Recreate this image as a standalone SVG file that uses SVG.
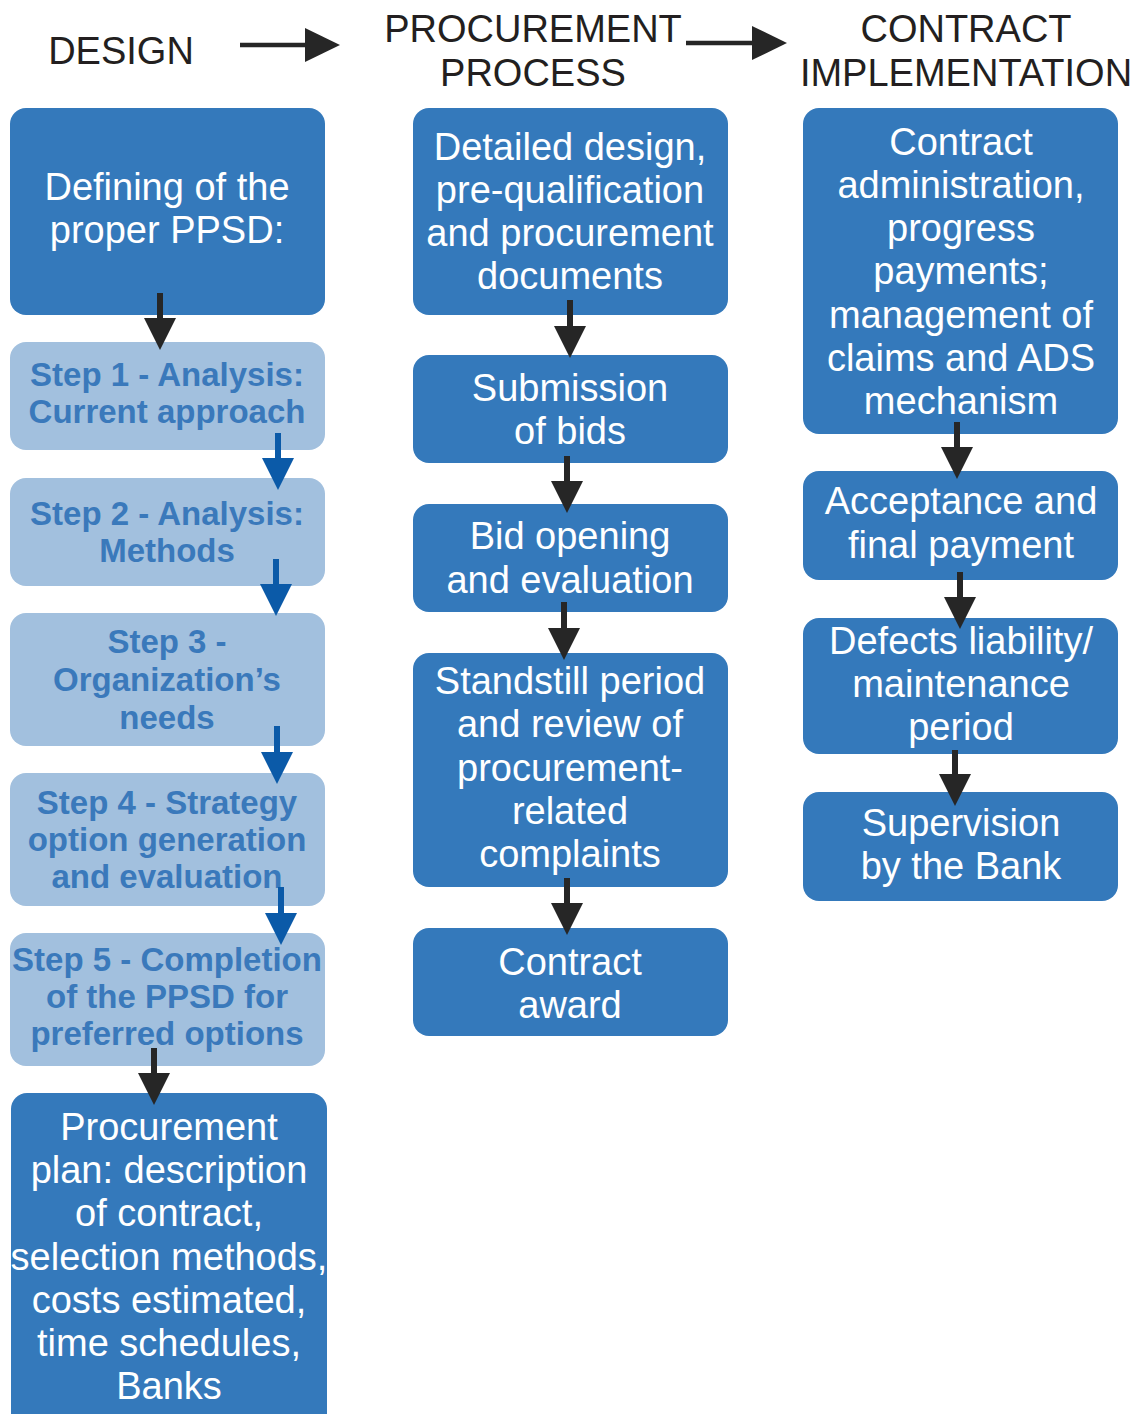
<svg xmlns="http://www.w3.org/2000/svg" width="1142" height="1414" viewBox="0 0 1142 1414">
<style>
.dark{fill:#3479bb}
.light{fill:#a2c0de}
.t{font-family:"Liberation Sans",Arial,sans-serif;font-size:38px;fill:#ffffff;text-anchor:middle}
.s{font-family:"Liberation Sans",Arial,sans-serif;font-size:33px;font-weight:bold;fill:#3a79bb;text-anchor:middle}
.h{font-family:"Liberation Sans",Arial,sans-serif;font-size:38px;fill:#231f20;text-anchor:middle}
.ka{stroke:#262626;stroke-width:6;fill:none}
.ba{stroke:#0b5aa8;stroke-width:6;fill:none}
.ha{stroke:#262626;stroke-width:4.5;fill:none}
</style>
<defs>
<marker id="mk" viewBox="0 0 32 32" refX="0" refY="16" markerWidth="32" markerHeight="32" markerUnits="userSpaceOnUse" orient="auto"><path d="M0,0 L32,16 L0,32 z" fill="#262626"/></marker>
<marker id="mb" viewBox="0 0 32 32" refX="0" refY="16" markerWidth="32" markerHeight="32" markerUnits="userSpaceOnUse" orient="auto"><path d="M0,0 L32,16 L0,32 z" fill="#0b5aa8"/></marker>
<marker id="mh" viewBox="0 0 35 34" refX="0" refY="17" markerWidth="35" markerHeight="34" markerUnits="userSpaceOnUse" orient="auto"><path d="M0,0 L35,17 L0,34 z" fill="#262626"/></marker>
</defs>
<rect width="1142" height="1414" fill="#ffffff"/>
<g id="headers">
<text class="h" x="121" y="64">DESIGN</text>
<text class="h" x="533" y="42">PROCUREMENT</text>
<text class="h" x="533" y="86">PROCESS</text>
<text class="h" x="966" y="42">CONTRACT</text>
<text class="h" x="966" y="86">IMPLEMENTATION</text>
</g>
<g id="n-define"><rect class="dark" x="10" y="108" width="315" height="207" rx="16"/>
<text class="t" x="167" y="200">Defining of the</text><text class="t" x="167" y="243">proper PPSD:</text></g>
<g id="n-step1"><rect class="light" x="10" y="342" width="315" height="108" rx="16"/>
<text class="s" x="167" y="386">Step 1 - Analysis:</text><text class="s" x="167" y="423">Current approach</text></g>
<g id="n-step2"><rect class="light" x="10" y="478" width="315" height="108" rx="16"/>
<text class="s" x="167" y="525">Step 2 - Analysis:</text><text class="s" x="167" y="562">Methods</text></g>
<g id="n-step3"><rect class="light" x="10" y="613" width="315" height="133" rx="16"/>
<text class="s" x="167" y="653">Step 3 -</text><text class="s" x="167" y="691">Organization’s</text><text class="s" x="167" y="729">needs</text></g>
<g id="n-step4"><rect class="light" x="10" y="773" width="315" height="133" rx="16"/>
<text class="s" x="167" y="814">Step 4 - Strategy</text><text class="s" x="167" y="851">option generation</text><text class="s" x="167" y="888">and evaluation</text></g>
<g id="n-step5"><rect class="light" x="10" y="933" width="315" height="133" rx="16"/>
<text class="s" x="167" y="971">Step 5 - Completion</text><text class="s" x="167" y="1008">of the PPSD for</text><text class="s" x="167" y="1045">preferred options</text></g>
<g id="n-plan"><rect class="dark" x="11" y="1093" width="316" height="340" rx="16"/>
<text class="t" x="169" y="1140">Procurement</text><text class="t" x="169" y="1183">plan: description</text><text class="t" x="169" y="1226">of contract,</text><text class="t" x="169" y="1270">selection methods,</text><text class="t" x="169" y="1313">costs estimated,</text><text class="t" x="169" y="1356">time schedules,</text><text class="t" x="169" y="1399">Banks</text></g>
<g id="n-detailed"><rect class="dark" x="413" y="108" width="315" height="207" rx="16"/>
<text class="t" x="570" y="160">Detailed design,</text><text class="t" x="570" y="203">pre-qualification</text><text class="t" x="570" y="246">and procurement</text><text class="t" x="570" y="289">documents</text></g>
<g id="n-submission"><rect class="dark" x="413" y="355" width="315" height="108" rx="16"/>
<text class="t" x="570" y="401">Submission</text><text class="t" x="570" y="444">of bids</text></g>
<g id="n-opening"><rect class="dark" x="413" y="504" width="315" height="108" rx="16"/>
<text class="t" x="570" y="549">Bid opening</text><text class="t" x="570" y="593">and evaluation</text></g>
<g id="n-standstill"><rect class="dark" x="413" y="653" width="315" height="234" rx="16"/>
<text class="t" x="570" y="694">Standstill period</text><text class="t" x="570" y="737">and review of</text><text class="t" x="570" y="781">procurement-</text><text class="t" x="570" y="824">related</text><text class="t" x="570" y="867">complaints</text></g>
<g id="n-award"><rect class="dark" x="413" y="928" width="315" height="108" rx="16"/>
<text class="t" x="570" y="975">Contract</text><text class="t" x="570" y="1018">award</text></g>
<g id="n-admin"><rect class="dark" x="803" y="108" width="315" height="326" rx="16"/>
<text class="t" x="961" y="155">Contract</text><text class="t" x="961" y="198">administration,</text><text class="t" x="961" y="241">progress</text><text class="t" x="961" y="284">payments;</text><text class="t" x="961" y="328">management of</text><text class="t" x="961" y="371">claims and ADS</text><text class="t" x="961" y="414">mechanism</text></g>
<g id="n-acceptance"><rect class="dark" x="803" y="471" width="315" height="109" rx="16"/>
<text class="t" x="961" y="514">Acceptance and</text><text class="t" x="961" y="558">final payment</text></g>
<g id="n-defects"><rect class="dark" x="803" y="618" width="315" height="136" rx="16"/>
<text class="t" x="961" y="654">Defects liability/</text><text class="t" x="961" y="697">maintenance</text><text class="t" x="961" y="740">period</text></g>
<g id="n-supervision"><rect class="dark" x="803" y="792" width="315" height="109" rx="16"/>
<text class="t" x="961" y="836">Supervision</text><text class="t" x="961" y="879">by the Bank</text></g>
<g id="connectors">
<line class="ha" x1="240" y1="45" x2="305" y2="45" marker-end="url(#mh)"/>
<line class="ha" x1="686" y1="43" x2="752" y2="43" marker-end="url(#mh)"/>
<line class="ka" x1="160" y1="293" x2="160" y2="318" marker-end="url(#mk)"/>
<line class="ba" x1="278" y1="433" x2="278" y2="458" marker-end="url(#mb)"/>
<line class="ba" x1="276" y1="559" x2="276" y2="584" marker-end="url(#mb)"/>
<line class="ba" x1="277" y1="726" x2="277" y2="752" marker-end="url(#mb)"/>
<line class="ba" x1="281" y1="887" x2="281" y2="913" marker-end="url(#mb)"/>
<line class="ka" x1="154" y1="1048" x2="154" y2="1073" marker-end="url(#mk)"/>
<line class="ka" x1="570" y1="300" x2="570" y2="326" marker-end="url(#mk)"/>
<line class="ka" x1="567" y1="456" x2="567" y2="481" marker-end="url(#mk)"/>
<line class="ka" x1="564" y1="602" x2="564" y2="628" marker-end="url(#mk)"/>
<line class="ka" x1="567" y1="878" x2="567" y2="903" marker-end="url(#mk)"/>
<line class="ka" x1="957" y1="422" x2="957" y2="447" marker-end="url(#mk)"/>
<line class="ka" x1="960" y1="572" x2="960" y2="597" marker-end="url(#mk)"/>
<line class="ka" x1="955" y1="750" x2="955" y2="774" marker-end="url(#mk)"/>
</g>
</svg>
